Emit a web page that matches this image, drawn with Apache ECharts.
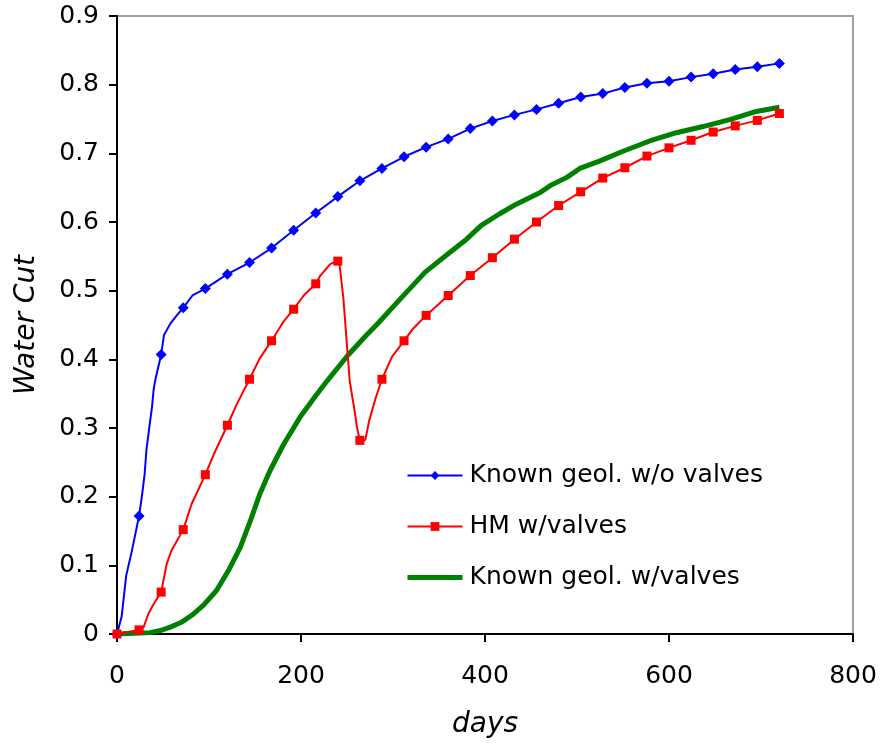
<!DOCTYPE html>
<html>
<head>
<meta charset="utf-8">
<script src="https://cdn.jsdelivr.net/npm/echarts@6/dist/echarts.min.js"></script>
<style>
  html, body { margin: 0; padding: 0; background: #fff; }
  #chart { width: 880px; height: 744px; }
</style>
</head>
<body>
<div id="chart"></div>
<script>
// ---- Data ----
const seriesNames = ['Known geol. w/o valves', 'HM w/valves', 'Known geol. w/valves'];

const blueDays = [0, 5, 10, 16, 24, 27, 30, 32, 35, 38, 40, 42, 48, 51, 58, 65, 72, 82, 96, 120, 144, 168, 192, 216, 240, 264, 288, 312, 336, 360, 384, 408, 432, 456, 480, 504, 528, 552, 576, 600, 624, 648, 672, 696, 720];
const blueVals = [0, 0.025, 0.085, 0.12, 0.172, 0.2, 0.232, 0.268, 0.3, 0.33, 0.358, 0.372, 0.407, 0.435, 0.452, 0.464, 0.475, 0.493, 0.503, 0.524, 0.541, 0.562, 0.588, 0.613, 0.637, 0.660, 0.678, 0.695, 0.709, 0.721, 0.736, 0.747, 0.756, 0.764, 0.773, 0.782, 0.787, 0.796, 0.802, 0.805, 0.811, 0.816, 0.822, 0.826, 0.831];

const redDays = [0, 24, 29, 34, 40, 48, 54, 59, 72, 81, 96, 105, 120, 130, 144, 155, 168, 181, 192, 203, 216, 221, 232, 240, 242, 246, 250, 253, 258, 261, 264, 267, 270, 274, 281, 288, 299, 312, 322, 336, 360, 384, 408, 432, 456, 480, 504, 528, 552, 576, 600, 624, 648, 672, 696, 720];
const redVals = [0, 0.006, 0.01, 0.029, 0.044, 0.061, 0.102, 0.121, 0.152, 0.189, 0.232, 0.261, 0.304, 0.334, 0.371, 0.401, 0.427, 0.455, 0.473, 0.493, 0.510, 0.522, 0.539, 0.543, 0.537, 0.49, 0.42, 0.368, 0.327, 0.300, 0.282, 0.281, 0.283, 0.31, 0.343, 0.371, 0.404, 0.427, 0.445, 0.464, 0.493, 0.522, 0.548, 0.575, 0.600, 0.624, 0.644, 0.664, 0.679, 0.696, 0.708, 0.719, 0.731, 0.740, 0.748, 0.758];

const greenDays = [0, 20, 36, 47, 58, 70, 82, 94, 108, 121, 134, 145, 155, 166, 181, 200, 215, 228, 251, 271, 282, 308, 335, 362, 380, 396, 416, 434, 460, 471, 489, 503, 525, 550, 579, 608, 637, 666, 695, 720];
const greenVals = [0, 0.001, 0.002, 0.005, 0.010, 0.017, 0.028, 0.042, 0.063, 0.092, 0.126, 0.165, 0.203, 0.237, 0.276, 0.318, 0.345, 0.368, 0.406, 0.435, 0.450, 0.488, 0.527, 0.556, 0.575, 0.595, 0.612, 0.626, 0.643, 0.653, 0.665, 0.678, 0.689, 0.703, 0.718, 0.730, 0.739, 0.749, 0.761, 0.767];

const markerEvery = 24; // markers drawn at every 24th day
const xTicks = [0, 200, 400, 600, 800];
const yTicks = [0, 0.1, 0.2, 0.3, 0.4, 0.5, 0.6, 0.7, 0.8, 0.9];

// ---- Chart ----
const FONT = 'DejaVu Sans';
const pair = (d, v) => d.map((x, i) => [x, v[i]]);
const markerSize = (size) => (val) => (val[0] % markerEvery === 0 ? size : 0);

const chart = echarts.init(document.getElementById('chart'), null, { renderer: 'canvas' });
chart.setOption({
  animation: false,
  backgroundColor: '#ffffff',
  grid: {
    left: 117, right: 27, top: 16, bottom: 107,
    show: true, borderColor: '#a0a0a0', borderWidth: 2, backgroundColor: 'transparent'
  },
  xAxis: {
    type: 'value', min: xTicks[0], max: xTicks[xTicks.length - 1], interval: 200,
    name: 'days', nameLocation: 'middle', nameGap: 77,
    nameTextStyle: { fontFamily: FONT, fontSize: 28, fontStyle: 'italic', color: '#000' },
    axisLine: { show: true, lineStyle: { color: '#000', width: 2 } },
    axisTick: { show: true, inside: false, length: 8, lineStyle: { color: '#000', width: 2 } },
    axisLabel: { margin: 30, fontFamily: FONT, fontSize: 25, color: '#000' },
    splitLine: { show: false }
  },
  yAxis: {
    type: 'value', min: yTicks[0], max: yTicks[yTicks.length - 1], interval: 0.1,
    name: 'Water Cut', nameLocation: 'middle', nameGap: 76,
    nameTextStyle: { fontFamily: FONT, fontSize: 28, fontStyle: 'italic', color: '#000' },
    axisLine: { show: true, lineStyle: { color: '#000', width: 2 } },
    axisTick: { show: true, inside: false, length: 8, lineStyle: { color: '#000', width: 2 } },
    axisLabel: { margin: 18, fontFamily: FONT, fontSize: 25, color: '#000',
      formatter: (v) => String(Math.round(v * 10) / 10) },
    splitLine: { show: false }
  },
  legend: {
    orient: 'vertical', left: 405, top: 463, padding: 0,
    itemWidth: 55, itemHeight: 11, itemGap: 26,
    textStyle: { fontFamily: FONT, fontSize: 25, color: '#000', padding: [0, 0, 0, 2] },
    data: [
      { name: seriesNames[0] },
      { name: seriesNames[1] },
      { name: seriesNames[2], itemStyle: { opacity: 0 }, lineStyle: { width: 5, color: '#008000' } }
    ]
  },
  series: [
    {
      name: seriesNames[0], type: 'line', data: pair(blueDays, blueVals),
      symbol: 'diamond', symbolSize: markerSize(11), showAllSymbol: true,
      itemStyle: { color: '#0000ff' }, lineStyle: { color: '#0000ff', width: 2 }, z: 3
    },
    {
      name: seriesNames[1], type: 'line', data: pair(redDays, redVals),
      symbol: 'rect', symbolSize: markerSize(9), showAllSymbol: true,
      itemStyle: { color: '#ff0000' }, lineStyle: { color: '#ff0000', width: 2 }, z: 4
    },
    {
      name: seriesNames[2], type: 'line', data: pair(greenDays, greenVals),
      symbol: 'none',
      itemStyle: { color: '#008000' }, lineStyle: { color: '#008000', width: 5 }, z: 2
    }
  ]
});
</script>
</body>
</html>
